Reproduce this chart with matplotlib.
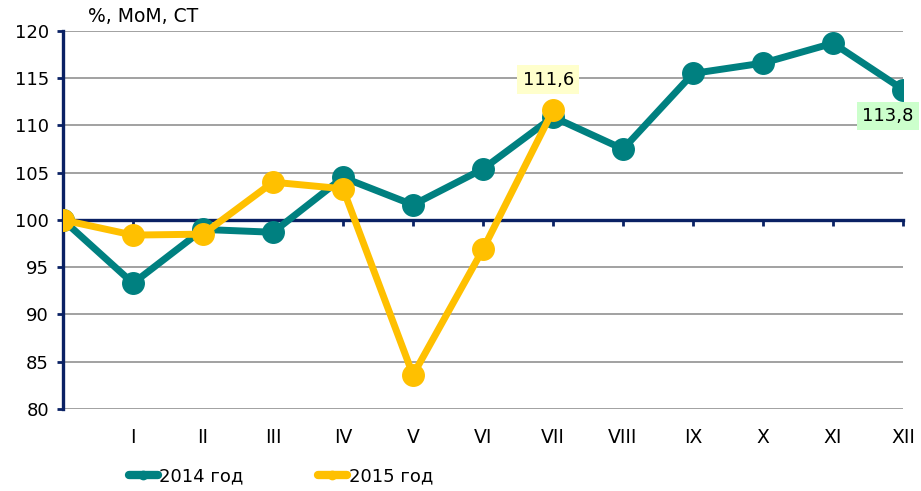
#!/usr/bin/env python

import numpy as np
import matplotlib.pyplot as plt
from matplotlib.lines import Line2D
from matplotlib.transforms import blended_transform_factory

# Monthly index, previous December = 100
months = ['', 'I', 'II', 'III', 'IV', 'V', 'VI', 'VII', 'VIII', 'IX', 'X', 'XI', 'XII']
values_2014 = [100, 93.3, 99.0, 98.7, 104.5, 101.6, 105.4, 110.9, 107.5, 115.5, 116.6, 118.7, 113.8]
values_2015 = [100, 98.4, 98.5, 104.0, 103.3, 83.6, 96.9, 111.6]

TEAL = '#008080'
GOLD = '#FFC000'
NAVY = '#0A2164'


def main():
    fig = plt.figure(figsize=(9.21, 4.91), dpi=100)
    ax = fig.add_axes([0.0684, 0.167, 0.9121, 0.770])

    x = np.arange(len(months))
    ax.plot(x, values_2014, color=TEAL, lw=5, marker='o', ms=15.5, zorder=3)
    ax.plot(x[:len(values_2015)], values_2015, color=GOLD, lw=5, marker='o', ms=15.5, zorder=4)

    ax.set_xlim(0, len(months) - 1)
    ax.set_ylim(80, 120)
    ax.set_yticks(np.arange(80, 121, 5))
    ax.yaxis.grid(True, color='#9a9a9a', lw=1.3)
    ax.set_axisbelow(True)

    for s in ['top', 'right']:
        ax.spines[s].set_visible(False)
    ax.spines['left'].set_color(NAVY)
    ax.spines['left'].set_linewidth(2.4)
    ax.tick_params(axis='y', colors=NAVY, direction='out', length=4, width=2,
                   labelsize=13, labelcolor='black', pad=6)

    # base line at 100 carries the month ticks, labels sit at the bottom
    ax.spines['bottom'].set_position(('data', 100))
    ax.spines['bottom'].set_color(NAVY)
    ax.spines['bottom'].set_linewidth(2.4)
    ax.spines['bottom'].set_zorder(2.5)
    ax.set_xticks(x)
    ax.tick_params(axis='x', colors=NAVY, direction='out', length=4, width=2,
                   labelbottom=False)

    trans = blended_transform_factory(ax.transData, ax.transAxes)
    for xi, m in zip(x, months):
        ax.text(xi, -0.075, m, transform=trans, ha='center', va='center',
                fontsize=13.5)

    ax.text(0.03, 1.012, '%, МоМ, СТ', transform=ax.transAxes, ha='left',
            va='bottom', fontsize=13.5)

    ax.annotate('111,6', (7, values_2015[7]), xytext=(-3.5, 22),
                textcoords='offset points', ha='center', va='center', fontsize=13,
                bbox=dict(boxstyle='square,pad=0.3', fc='#FFFFCC', ec='none'),
                zorder=5)
    ax.annotate('113,8', (12, values_2014[12]), xytext=(-11, -19),
                textcoords='offset points', ha='center', va='center', fontsize=13,
                bbox=dict(boxstyle='square,pad=0.3', fc='#CCFFCC', ec='none'),
                annotation_clip=False, zorder=5)

    handles = [Line2D([], [], color=TEAL, lw=6, marker='o', ms=6, solid_capstyle='round'),
               Line2D([], [], color=GOLD, lw=6, marker='o', ms=6, solid_capstyle='round')]
    fig.legend(handles, ['2014 год', '2015 год'], loc='center left',
               bbox_to_anchor=(0.13, 0.03), ncol=2, frameon=False,
               prop={'size': 13}, handlelength=1.6,
               handletextpad=0.1, columnspacing=4.1, borderpad=0)

    fig.savefig('out.png', dpi=100)
    plt.close(fig)


if __name__ == '__main__':
    main()
